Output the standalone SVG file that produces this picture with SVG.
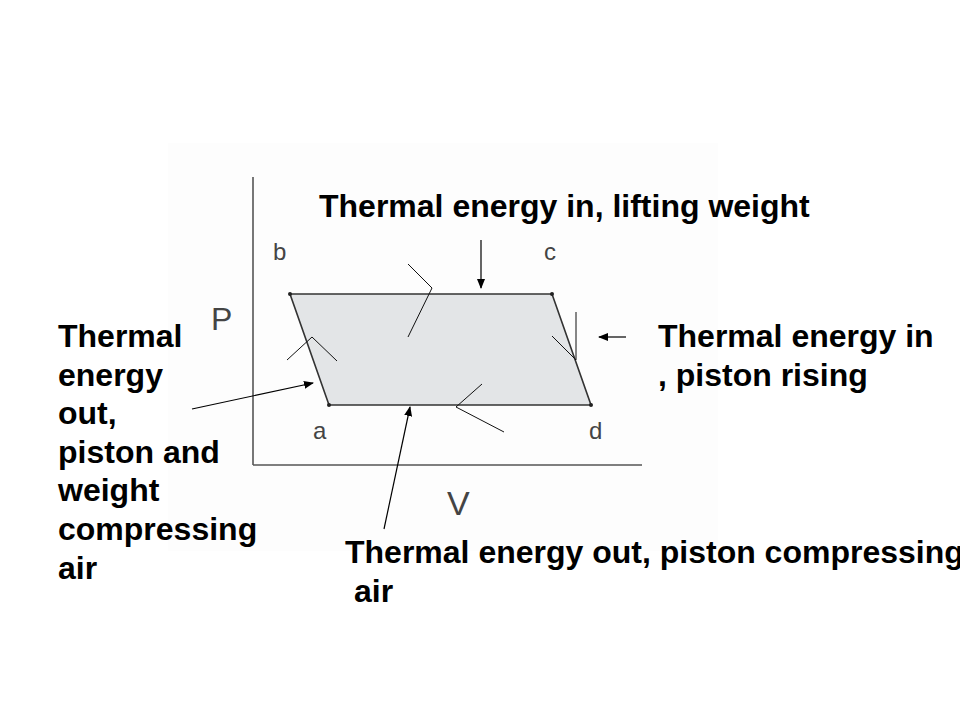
<svg xmlns="http://www.w3.org/2000/svg" width="960" height="720" viewBox="0 0 960 720">
  <defs>
    <marker id="ah" markerWidth="10" markerHeight="8" refX="9" refY="4" orient="auto" markerUnits="userSpaceOnUse">
      <path d="M0,0 L10,4 L0,8 Z" fill="#000"/>
    </marker>
    <style>
      .lbl { font-family: "Liberation Sans", Arial, sans-serif; font-weight: bold; font-size: 32px; fill: #000; }
      .ax { font-family: "Liberation Sans", Arial, sans-serif; fill: #444; }
      .axis { stroke: #555; stroke-width: 1.6; fill: none; }
      .thin { stroke: #111; stroke-width: 1; fill: none; }
      .arrow { stroke: #000; stroke-width: 1.2; fill: none; marker-end: url(#ah); }
    </style>
  </defs>
  <rect width="960" height="720" fill="#fff"/>
  <rect x="168" y="143" width="550" height="408" fill="#fdfdfd"/>

  <g id="axes">
    <line class="axis" x1="253" y1="177" x2="253" y2="465"/>
    <line class="axis" x1="253" y1="465" x2="642" y2="465"/>
    <text class="ax" x="211" y="330" font-size="32">P</text>
    <text class="ax" x="447" y="515" font-size="34">V</text>
  </g>

  <g id="cycle">
    <polygon points="290,294 552,294 591,405 329,405" fill="#e3e5e7" stroke="#333" stroke-width="1.6"/>
    <circle cx="290" cy="294" r="2" fill="#222"/>
    <circle cx="552" cy="294" r="2" fill="#222"/>
    <circle cx="591" cy="405" r="2" fill="#222"/>
    <circle cx="329" cy="405" r="2" fill="#222"/>
    <text class="ax" x="273" y="260" font-size="24">b</text>
    <text class="ax" x="544" y="260" font-size="24">c</text>
    <text class="ax" x="313" y="439" font-size="24">a</text>
    <text class="ax" x="589" y="439" font-size="24">d</text>
  </g>

  <g id="ticks">
    <polyline class="thin" points="408,264 432,288 408,337"/>
    <polyline class="thin" points="287,360 312,337 337,361"/>
    <polyline class="thin" points="552,336 576,360"/>
    <line class="thin" x1="576" y1="312" x2="576" y2="360"/>
    <polyline class="thin" points="482,384 456,407 504,432"/>
  </g>

  <g id="connectors">
    <line class="arrow" x1="481" y1="240" x2="481" y2="288"/>
    <line class="arrow" x1="626" y1="337" x2="599" y2="337"/>
    <line class="arrow" x1="192" y1="409" x2="313" y2="383"/>
    <line class="arrow" x1="384" y1="529" x2="410" y2="407"/>
  </g>

  <g id="label-top">
    <text class="lbl" x="319" y="217">Thermal energy in, lifting weight</text>
  </g>
  <g id="label-right">
    <text class="lbl" x="658" y="347">Thermal energy in</text>
    <text class="lbl" x="658" y="386">, piston rising</text>
  </g>
  <g id="label-left">
    <text class="lbl" x="58" y="347">Thermal</text>
    <text class="lbl" x="58" y="386">energy</text>
    <text class="lbl" x="58" y="424">out,</text>
    <text class="lbl" x="58" y="463">piston and</text>
    <text class="lbl" x="58" y="501">weight</text>
    <text class="lbl" x="58" y="540">compressing</text>
    <text class="lbl" x="58" y="579">air</text>
  </g>
  <g id="label-bottom">
    <text class="lbl" x="345" y="563">Thermal energy out, piston compressing</text>
    <text class="lbl" x="354" y="602">air</text>
  </g>
</svg>
